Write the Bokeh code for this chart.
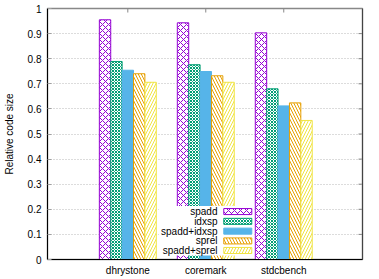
from bokeh.plotting import figure
from bokeh.models import Range1d, FixedTicker, Span
from bokeh.core.properties import value
from bokeh.embed import file_html
from bokeh.resources import INLINE

# ---- data ----
categories = ["dhrystone", "coremark", "stdcbench"]
series_names = ["spadd", "idxsp", "spadd+idxsp", "sprel", "spadd+sprel"]
spadd = [0.955, 0.943, 0.903]
idxsp = [0.789, 0.776, 0.680]
spadd_idxsp = [0.754, 0.749, 0.612]
sprel = [0.740, 0.732, 0.624]
spadd_sprel = [0.706, 0.706, 0.554]
y_ticks = [0, 0.1, 0.2, 0.3, 0.4, 0.5, 0.6, 0.7, 0.8, 0.9, 1]
y_tick_labels = ["0", "0.1", "0.2", "0.3", "0.4", "0.5", "0.6", "0.7", "0.8", "0.9", "1"]

series = [spadd, idxsp, spadd_idxsp, sprel, spadd_sprel]
colors = ["#9400d3", "#009e73", "#56b4e9", "#e69f00", "#f0e442"]
hatches = [("diagonal_cross", 6), ("diagonal_cross", 3), (None, None),
           ("left_diagonal_line", 6), ("right_diagonal_line", 6)]

FONT = "Liberation Sans"
X0, X1 = -0.03, 4.01
p = figure(width=379, height=279, output_backend="svg", toolbar_location=None,
           x_range=Range1d(X0, X1), y_range=Range1d(0, 1),
           min_border_left=47, min_border_right=17, min_border_top=8, min_border_bottom=20)
p.outline_line_color = "#888888"
p.outline_line_width = 1.5
p.background_fill_color = "white"

# grid
p.xgrid.visible = False
p.ygrid.ticker = FixedTicker(ticks=y_ticks[1:-1])
p.ygrid.grid_line_color = "#b8b8b8"
p.ygrid.grid_line_dash = "1 2"
p.ygrid.grid_line_width = 1

# left axis
ya = p.yaxis[0]
ya.ticker = FixedTicker(ticks=y_ticks)
ya.major_label_overrides = {t: l for t, l in zip(y_ticks, y_tick_labels)}
ya.major_tick_in = 4
ya.major_tick_out = 0
ya.minor_tick_line_color = None
ya.major_tick_line_color = "#a0a0a0"
ya.axis_line_color = "black"
ya.major_label_standoff = 6
ya.major_label_text_font = FONT
ya.major_label_text_font_size = "10px"
ya.major_label_text_color = "black"
ya.axis_label = "Relative code size"
ya.axis_label_text_font = FONT
ya.axis_label_text_font_size = "10px"
ya.axis_label_text_font_style = "normal"
ya.axis_label_text_color = "black"
ya.axis_label_standoff = 10

# bottom axis
group_x = [1, 2, 3]
xa = p.xaxis[0]
xa.ticker = FixedTicker(ticks=group_x)
xa.major_label_overrides = {g: c for g, c in zip(group_x, categories)}
xa.major_tick_in = 0
xa.major_tick_out = 0
xa.minor_tick_line_color = None
xa.axis_line_color = "black"
xa.major_label_standoff = 5
xa.major_label_text_font = FONT
xa.major_label_text_font_size = "10px"
xa.major_label_text_color = "black"

# mirrored ticks (top and right), grey, pointing inward
p.segment(x0=group_x, x1=group_x, y0=[1] * 3, y1=[1 - 0.016] * 3,
          line_color="#888888", line_width=1)
p.segment(x0=[X1] * len(y_ticks), x1=[X1 - 0.051] * len(y_ticks), y0=y_ticks, y1=y_ticks,
          line_color="#888888", line_width=1)

# bars
w = 0.146
for i, (vals, col, (hp, hs)) in enumerate(zip(series, colors, hatches)):
    xs = [g + (i - 2) * w for g in group_x]
    if hp is None:
        p.vbar(x=xs, top=vals, bottom=0, width=w, fill_color=col, line_color=col, line_width=1)
    else:
        p.vbar(x=xs, top=vals, bottom=0, width=w, fill_color="white", line_color=col, line_width=1,
               hatch_pattern=hp, hatch_scale=hs, hatch_color=col, hatch_weight=1)

# legend (gnuplot style: label right-aligned, sample to the right)
p.quad(left=[1.40], right=[2.62], bottom=[0.016], top=[0.213], fill_color="white", line_color=None)
row_y = [0.191, 0.152, 0.113, 0.074, 0.036]
sh = 0.012
for name, col, (hp, hs), ry in zip(series_names, colors, hatches, row_y):
    if hp is None:
        p.quad(left=[2.231], right=[2.59], bottom=[ry - sh], top=[ry + sh],
               fill_color=col, line_color=col)
    else:
        p.quad(left=[2.231], right=[2.59], bottom=[ry - sh], top=[ry + sh],
               fill_color="white", line_color=col, hatch_pattern=hp, hatch_scale=hs,
               hatch_color=col, hatch_weight=1)
p.text(x=[2.15] * 5, y=row_y, text=series_names, text_align="right", text_baseline="middle",
       text_font=value(FONT), text_font_size="10px", text_color="black")

# right border in black
p.add_layout(Span(location=X1, dimension="height", line_color="black", line_width=1))

open("out.html", "w").write(file_html(p, INLINE))
